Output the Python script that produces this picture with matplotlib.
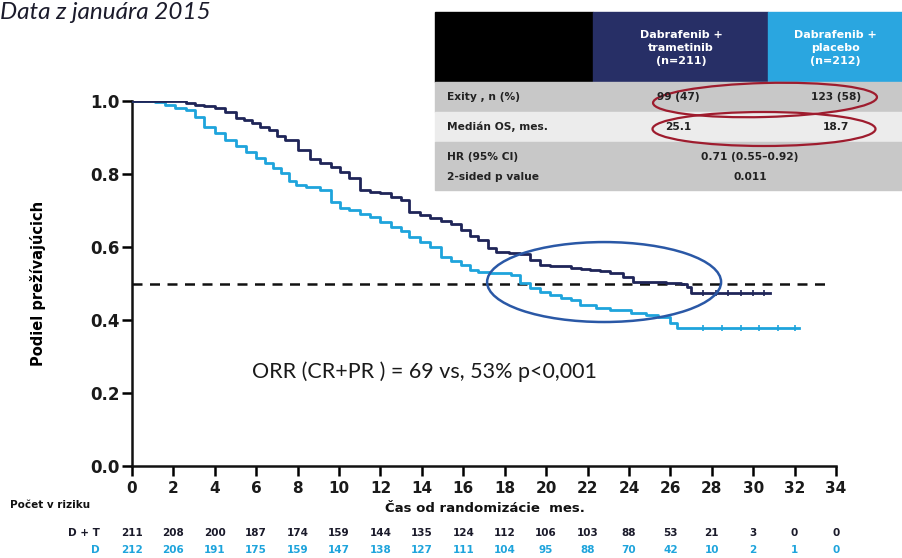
import matplotlib
matplotlib.use("Agg")
import matplotlib.pyplot as plt
from matplotlib.patches import Ellipse, Rectangle
from matplotlib import transforms

# ---------------- data ----------------
t_dt = [0, 2.6, 3.05, 3.5, 4.0, 4.5, 5.0, 5.4, 5.8, 6.2, 6.6, 7.0, 7.4, 8.0, 8.6, 9.1, 9.6,
        10.05, 10.5, 11.0, 11.5, 12.0, 12.5, 13.0, 13.4, 13.9, 14.4, 14.9, 15.4, 15.9, 16.3,
        16.7, 17.2, 17.6, 18.2, 18.75, 19.2, 19.7, 20.2, 21.2, 21.7, 22.1, 22.6, 23.1, 23.7,
        24.2, 25.0, 25.8, 26.5, 26.8, 27.0, 30.8]
s_dt = [1.0, 0.995, 0.989, 0.985, 0.981, 0.970, 0.953, 0.947, 0.940, 0.930, 0.920, 0.905,
        0.893, 0.866, 0.842, 0.830, 0.820, 0.805, 0.790, 0.756, 0.752, 0.748, 0.738, 0.729,
        0.696, 0.688, 0.679, 0.670, 0.664, 0.647, 0.630, 0.619, 0.598, 0.586, 0.583, 0.580,
        0.564, 0.551, 0.548, 0.542, 0.540, 0.537, 0.533, 0.529, 0.518, 0.504, 0.503, 0.501,
        0.500, 0.490, 0.474, 0.474]

t_d = [0, 1.1, 1.6, 2.1, 2.6, 3.05, 3.5, 4.0, 4.5, 5.0, 5.5, 6.0, 6.4, 6.8, 7.2, 7.6, 7.9,
       8.4, 9.1, 9.6, 10.05, 10.5, 11.0, 11.5, 12.0, 12.5, 13.0, 13.4, 13.9, 14.4, 14.9, 15.4,
       15.9, 16.3, 16.7, 17.3, 18.3, 18.75, 19.2, 19.7, 20.2, 20.7, 21.2, 21.65, 22.4, 23.1,
       24.1, 24.8, 25.4, 26.0, 26.3, 32.2]
s_d = [1.0, 0.997, 0.989, 0.982, 0.975, 0.956, 0.929, 0.912, 0.893, 0.876, 0.860, 0.845,
       0.830, 0.816, 0.803, 0.780, 0.770, 0.764, 0.755, 0.723, 0.708, 0.701, 0.690, 0.682,
       0.668, 0.655, 0.643, 0.627, 0.613, 0.600, 0.573, 0.562, 0.551, 0.536, 0.531, 0.528,
       0.523, 0.501, 0.488, 0.478, 0.468, 0.461, 0.455, 0.441, 0.434, 0.427, 0.419, 0.413,
       0.408, 0.392, 0.378, 0.378]

cens_dt = [27.6, 28.2, 28.8, 29.4, 30.0, 30.5]
cens_d = [27.6, 28.5, 29.4, 30.3, 31.2, 32.0]

x_ticks = list(range(0, 35, 2))
y_ticks = [0.0, 0.2, 0.4, 0.6, 0.8, 1.0]
risk_dt = [211, 208, 200, 187, 174, 159, 144, 135, 124, 112, 106, 103, 88, 53, 21, 3, 0, 0]
risk_d = [212, 206, 191, 175, 159, 147, 138, 127, 111, 104, 95, 88, 70, 42, 10, 2, 1, 0]

table_header = ["Dabrafenib +\ntrametinib\n(n=211)", "Dabrafenib +\nplacebo\n(n=212)"]
row_labels = ["Exity , n (%)", "Medián OS, mes."]
row_dt = ["99 (47)", "25.1"]
row_d = ["123 (58)", "18.7"]
hr_labels = ["HR (95% CI)", "2-sided p value"]
hr_values = ["0.71 (0.55\u20130.92)", "0.011"]

NAVY = "#1f2558"
LIGHT = "#1ea4dc"

# ---------------- figure ----------------
fig = plt.figure(figsize=(9.02, 5.58), dpi=100)
W, H = 902, 558
ax = fig.add_axes([132 / W, 1 - 466 / H, (836 - 132) / W, (466 - 101) / H])

ax.step(t_dt, s_dt, where="post", color=NAVY, lw=2.0, zorder=4)
ax.step(t_d, s_d, where="post", color=LIGHT, lw=2.0, zorder=3)
ax.plot(cens_dt, [s_dt[-1]] * len(cens_dt), ls="none", marker="|", ms=4, mew=1.2, color=NAVY, zorder=4)
ax.plot(cens_d, [s_d[-1]] * len(cens_d), ls="none", marker="|", ms=4, mew=1.2, color=LIGHT, zorder=3)

ax.plot([0, 33.8], [0.5, 0.5], color="#111111", lw=1.8, ls=(0, (4, 3)), zorder=2)

ax.add_patch(Ellipse((22.8, 0.504), 11.3, 0.219, fill=False, ec="#2a58a6", lw=1.8, zorder=5))

ax.text(5.8, 0.241, "ORR (CR+PR ) = 69 vs, 53% p<0,001", fontsize=15.5, family="Lato",
        color="#1a1a1a", va="baseline", ha="left")

ax.set_xlim(0, 34.0)
ax.set_ylim(0, 1.0)
ax.set_xticks(x_ticks)
ax.set_yticks(y_ticks)
ax.set_yticklabels([f"{v:.1f}" for v in y_ticks])
for s in ["top", "right"]:
    ax.spines[s].set_visible(False)
for s in ["left", "bottom"]:
    ax.spines[s].set_linewidth(1.8)
    ax.spines[s].set_color("#111111")
ax.tick_params(axis="x", length=7, width=1.8, pad=4, labelsize=11)
ax.tick_params(axis="y", length=7, width=1.8, pad=2, labelsize=12)
for lab in ax.get_xticklabels() + ax.get_yticklabels():
    lab.set_fontweight("bold")
    lab.set_color("#1a1a1a")
for sp in ax.spines.values():
    sp.set_clip_on(False)
ax.set_ylabel("Podiel prežívajúcich", fontsize=10.5, fontweight="bold")
ax.yaxis.set_label_coords(-0.122, 0.5)

# ---------------- overlay in pixel coords ----------------
ov = fig.add_axes([0, 0, 1, 1], zorder=10)
ov.set_xlim(0, W)
ov.set_ylim(H, 0)
ov.axis("off")
ov.patch.set_alpha(0)

ov.text(0, 19, "Data z januára 2015", fontsize=17.5, family="Lato", style="italic",
        color="#1b1b2b", va="baseline", ha="left")

# table
ov.add_patch(Rectangle((435, 12), 158, 70, color="#000000"))
ov.add_patch(Rectangle((593, 12), 175, 70, color="#272f66"))
ov.add_patch(Rectangle((768, 12), 134, 70, color="#2aa6e0"))
ov.add_patch(Rectangle((435, 82), 467, 30, color="#c8c8c8"))
ov.add_patch(Rectangle((435, 112), 467, 30, color="#ececec"))
ov.add_patch(Rectangle((435, 142), 467, 48, color="#c8c8c8"))
ov.text(681, 48, table_header[0], color="white", fontsize=8.0, fontweight="bold",
        ha="center", va="center", linespacing=1.35)
ov.text(835, 48, table_header[1], color="white", fontsize=8.0, fontweight="bold",
        ha="center", va="center", linespacing=1.35)
row_y = [97, 127]
FS = 7.7
for y, lab, a, b in zip(row_y, row_labels, row_dt, row_d):
    ov.text(447, y, lab, fontsize=FS, fontweight="bold", color="#222222", ha="left", va="center")
    ov.text(678, y, a, fontsize=FS, fontweight="bold", color="#222222", ha="center", va="center")
    ov.text(836, y, b, fontsize=FS, fontweight="bold", color="#222222", ha="center", va="center")
for y, lab, v in zip([157, 177], hr_labels, hr_values):
    ov.text(447, y, lab, fontsize=FS, fontweight="bold", color="#222222", ha="left", va="center")
    ov.text(750, y, v, fontsize=FS, fontweight="bold", color="#222222", ha="center", va="center")

ov.add_patch(Ellipse((765, 100), 224, 34, angle=-1.5, fill=False, ec="#9e1c2e", lw=1.6))
ov.add_patch(Ellipse((764, 129), 223, 34, fill=False, ec="#9e1c2e", lw=1.6))

# risk table
ov.text(10, 505, "Počet v riziku", fontsize=7.5, fontweight="bold", color="#111111",
        ha="left", va="center")
ov.text(485, 508, "Čas od randomizácie  mes.", fontsize=9.5, fontweight="bold",
        color="#111111", ha="center", va="center")
ov.text(100, 533, "D + T", fontsize=7.5, fontweight="bold", color="#1a1a2a", ha="right", va="center")
ov.text(100, 550, "D", fontsize=7.5, fontweight="bold", color=LIGHT, ha="right", va="center")
tr = transforms.blended_transform_factory(ax.transData, ov.transData)
for x, a, b in zip(x_ticks, risk_dt, risk_d):
    ov.text(x, 533, str(a), transform=tr, fontsize=7.5, fontweight="bold", color="#1a1a2a",
            ha="center", va="center")
    ov.text(x, 550, str(b), transform=tr, fontsize=7.5, fontweight="bold", color=LIGHT,
            ha="center", va="center")

fig.savefig("out.png", dpi=100)
